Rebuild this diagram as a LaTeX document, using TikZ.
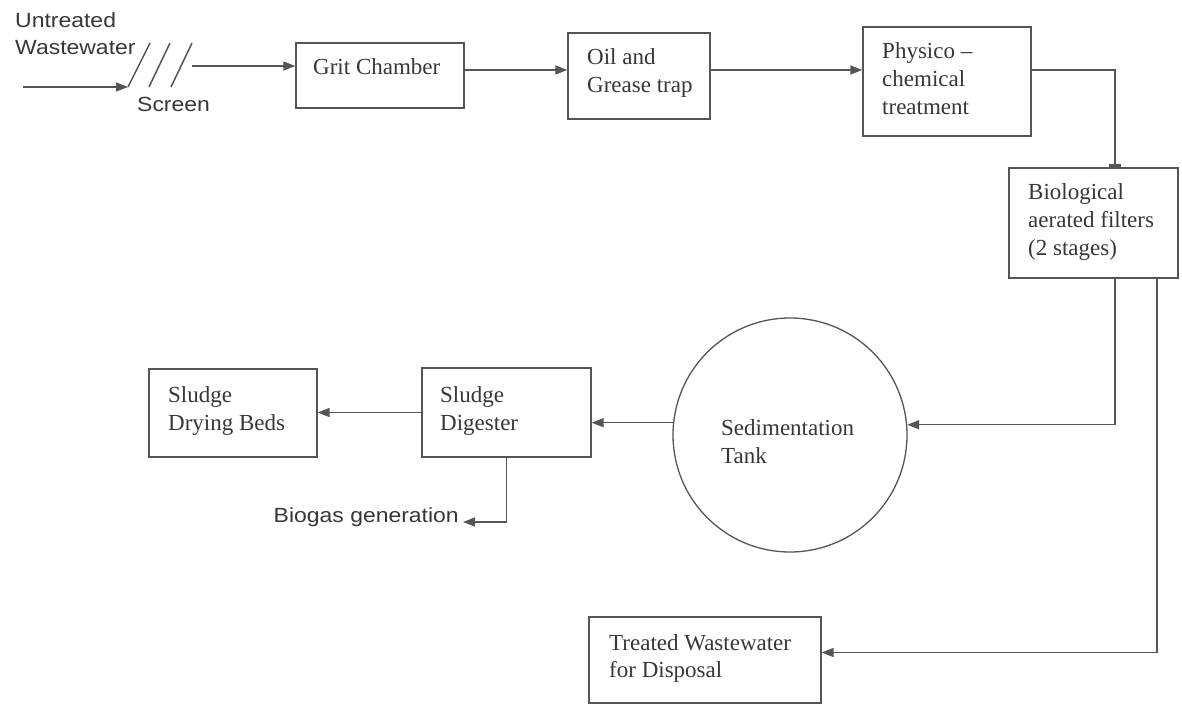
\documentclass[tikz,border=0pt]{standalone}
\usepackage{fontspec}
\setmainfont{Liberation Serif}
\newfontfamily\sansf{Liberation Sans}[FakeStretch=1.12]
\usetikzlibrary{arrows.meta,calc}
\definecolor{linec}{RGB}{85,85,85}
\definecolor{textc}{RGB}{55,55,55}
\tikzset{
  box/.style={draw=linec, line width=1.3pt, rectangle, inner sep=0pt},
  tank/.style={draw=linec, line width=1.3pt, circle, inner sep=0pt, minimum size=234pt},
  lbl/.style={text=textc, inner sep=0pt, anchor=base west, align=left, font=\fontsize{23}{28}\selectfont},
  slbl/.style={text=textc, inner sep=0pt, anchor=base west, align=left, font=\sansf\fontsize{20.5}{27}\selectfont},
  conn/.style={draw=linec, line width=1.5pt},
  arr/.style={conn, -{Triangle[length=12pt,width=9pt]}},
  bararr/.style={conn, -{Rectangle[length=3pt,width=12pt]}},
}
\begin{document}
\begin{tikzpicture}[x=1pt,y=-1pt]
\useasboundingbox (0,0) rectangle (1182,708);

% boxes
\node[box, minimum width=168pt, minimum height=65pt]  (grit)  at (380,75.5) {};
\node[box, minimum width=142pt, minimum height=86pt]  (oil)   at (639,76) {};
\node[box, minimum width=168pt, minimum height=109pt] (phys)  at (947,81.5) {};
\node[box, minimum width=169pt, minimum height=110pt] (bio)   at (1093.5,223) {};
\node[tank] (sed) at (790,435) {};
\node[box, minimum width=169pt, minimum height=89pt]  (dig)   at (506.5,412.5) {};
\node[box, minimum width=168pt, minimum height=88pt]  (dry)   at (233,413) {};
\node[box, minimum width=232pt, minimum height=86pt]  (treat) at (705,660) {};

% texts (base anchor = baseline of the last line)
\node[slbl] (tin)  at (15,55) {Untreated\\Wastewater};
\node[slbl] (tscr) at (137,112) {Screen};
\node[lbl] (tgrit) at (313,75) {Grit Chamber};
\node[lbl] (toil)  at (587,93) {Oil and\\Grease trap};
\node[lbl] (tphys) at (882,115) {Physico –\\chemical\\treatment};
\node[lbl] (tbio)  at (1028,256) {Biological\\aerated filters\\(2 stages)};
\node[lbl] (tsed)  at (721,463) {Sedimentation\\Tank};
\node[lbl] (tdig)  at (440,430) {Sludge\\Digester};
\node[lbl] (tdry)  at (168,430) {Sludge\\Drying Beds};
\node[lbl, font=\fontsize{23}{27}\selectfont] (ttreat) at (609,677) {Treated Wastewater\\for Disposal};
\node[slbl, anchor=base east, inner xsep=4pt] (biogas) at (463,522) {Biogas generation};

% screen
\coordinate (inStart) at (23,87);
\coordinate (s1b) at (128,87); \coordinate (s1t) at (150,43);
\coordinate (s2b) at (149,87); \coordinate (s2t) at (170,43);
\coordinate (s3b) at (171,87); \coordinate (s3t) at (192,43);
\coordinate (scrOut) at (192,66);
\draw[conn] (s1b) -- (s1t);
\draw[conn] (s2b) -- (s2t);
\draw[conn] (s3b) -- (s3t);
\draw[arr] (inStart) -- (s1b);
\draw[arr] (scrOut) -- (grit.west |- scrOut);

% main line
\coordinate (rowA) at (0,70);
\coordinate (colA) at (1115,0);
\coordinate (colB) at (1157,0);
\coordinate (rowT) at (0,652.5);
\draw[arr] (grit.east |- rowA) -- (oil.west |- rowA);
\draw[arr] (oil.east |- rowA) -- (phys.west |- rowA);
\draw[bararr] (phys.east |- rowA) -| (colA |- bio.north);
\draw[arr] (colA |- bio.south) |- (sed.5.39);
\draw[arr] (colB |- bio.south) |- (treat.east |- rowT);
\draw[arr] (sed.174.61) -- (dig.east |- sed.174.61);
\draw[arr] (dig.west) -- (dry.east |- dig.west);
\draw[arr] (dig.south) |- (biogas.base east);
\end{tikzpicture}
\end{document}
